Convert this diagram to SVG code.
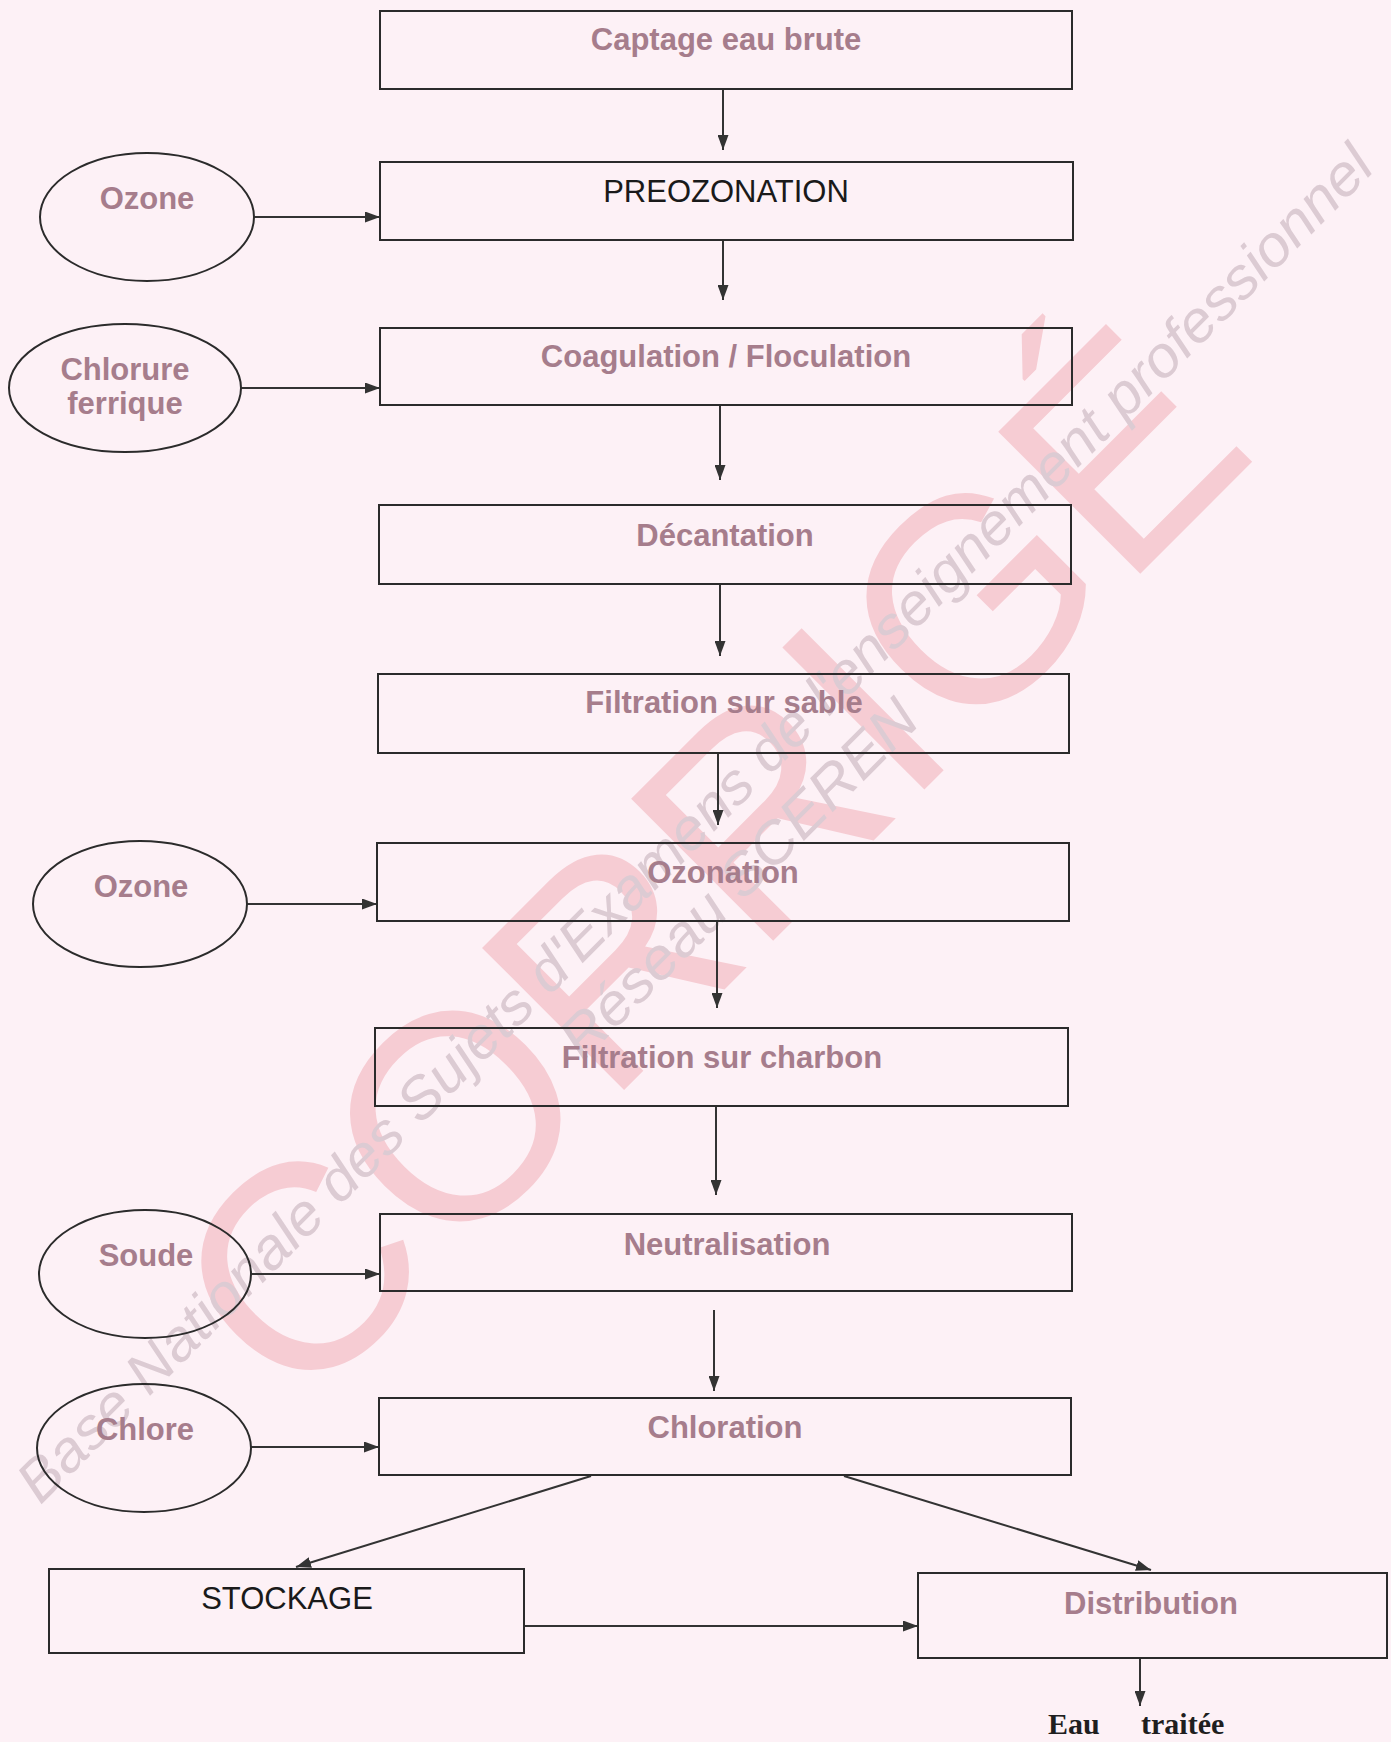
<svg xmlns="http://www.w3.org/2000/svg" width="1391" height="1742" viewBox="0 0 1391 1742">
<defs>
<marker id="ah" markerWidth="15" markerHeight="11" refX="15" refY="5.5" orient="auto" markerUnits="userSpaceOnUse">
<path d="M0,0 L15,5.5 L0,11 z" fill="#333"/>
</marker>
<style>
.box{fill:none;stroke:#2b2b2b;stroke-width:2}
.ell{fill:none;stroke:#2b2b2b;stroke-width:2}
.con{fill:none;stroke:#333;stroke-width:2;marker-end:url(#ah)}
.pt{font-family:"Liberation Sans",Arial,sans-serif;font-size:31px;font-weight:bold;fill:#a67d8c;text-anchor:middle}
.bt{font-family:"Liberation Sans",Arial,sans-serif;font-size:31px;fill:#1a1a1a;text-anchor:middle}
.wm{font-family:"Liberation Sans",Arial,sans-serif;font-size:292px;fill:#f6ccd3}
.wt{font-family:"Liberation Sans",Arial,sans-serif;font-style:italic;font-size:58px;fill:#dccbd3}
</style>
</defs>
<rect x="0" y="0" width="1391" height="1742" fill="#fdf1f6"/>
<g id="watermark">
<text class="wm" transform="rotate(-45)" x="-110" y="1212" text-anchor="middle">CORRIGÉ</text>
<text class="wt" transform="rotate(-45)" x="-1036" y="1093" textLength="1890" lengthAdjust="spacingAndGlyphs">Base Nationale des Sujets d'Examens de l'enseignement professionnel</text>
<text class="wt" transform="rotate(-45)" x="-339" y="1163" textLength="480" lengthAdjust="spacingAndGlyphs">Réseau SCEREN</text>
</g>
<g id="connectors">
<line class="con" x1="723" y1="89" x2="723" y2="150"/>
<line class="con" x1="254" y1="217" x2="380" y2="217"/>
<line class="con" x1="723" y1="240" x2="723" y2="300"/>
<line class="con" x1="241" y1="388" x2="380" y2="388"/>
<line class="con" x1="720" y1="405" x2="720" y2="480"/>
<line class="con" x1="720" y1="584" x2="720" y2="656"/>
<line class="con" x1="718" y1="753" x2="718" y2="825"/>
<line class="con" x1="247" y1="904" x2="377" y2="904"/>
<line class="con" x1="717" y1="921" x2="717" y2="1008"/>
<line class="con" x1="716" y1="1106" x2="716" y2="1195"/>
<line class="con" x1="251" y1="1274" x2="380" y2="1274"/>
<line class="con" x1="714" y1="1310" x2="714" y2="1391"/>
<line class="con" x1="251" y1="1447" x2="379" y2="1447"/>
<line class="con" x1="591" y1="1476" x2="296" y2="1567"/>
<line class="con" x1="844" y1="1476" x2="1151" y2="1570"/>
<line class="con" x1="524" y1="1626" x2="918" y2="1626"/>
<line class="con" x1="1140" y1="1658" x2="1140" y2="1706"/>
</g>
<g id="n-captage"><rect class="box" x="380" y="11" width="692" height="78"/><text class="pt" x="726" y="50">Captage eau brute</text></g>
<g id="n-preozonation"><rect class="box" x="380" y="162" width="693" height="78"/><text class="bt" x="726" y="202">PREOZONATION</text></g>
<g id="n-ozone1"><ellipse class="ell" cx="147" cy="217" rx="107" ry="64"/><text class="pt" x="147" y="209">Ozone</text></g>
<g id="n-coagulation"><rect class="box" x="380" y="328" width="692" height="77"/><text class="pt" x="726" y="367">Coagulation / Floculation</text></g>
<g id="n-chlorure"><ellipse class="ell" cx="125" cy="388" rx="116" ry="64"/><text class="pt" x="125" y="380">Chlorure</text><text class="pt" x="125" y="414">ferrique</text></g>
<g id="n-decantation"><rect class="box" x="379" y="505" width="692" height="79"/><text class="pt" x="725" y="546">Décantation</text></g>
<g id="n-sable"><rect class="box" x="378" y="674" width="691" height="79"/><text class="pt" x="724" y="713">Filtration sur sable</text></g>
<g id="n-ozonation"><rect class="box" x="377" y="843" width="692" height="78"/><text class="pt" x="723" y="883">Ozonation</text></g>
<g id="n-ozone2"><ellipse class="ell" cx="140" cy="904" rx="107" ry="63"/><text class="pt" x="141" y="897">Ozone</text></g>
<g id="n-charbon"><rect class="box" x="375" y="1028" width="693" height="78"/><text class="pt" x="722" y="1068">Filtration sur charbon</text></g>
<g id="n-neutralisation"><rect class="box" x="380" y="1214" width="692" height="77"/><text class="pt" x="727" y="1255">Neutralisation</text></g>
<g id="n-soude"><ellipse class="ell" cx="145" cy="1274" rx="106" ry="64"/><text class="pt" x="146" y="1266">Soude</text></g>
<g id="n-chloration"><rect class="box" x="379" y="1398" width="692" height="77"/><text class="pt" x="725" y="1438">Chloration</text></g>
<g id="n-chlore"><ellipse class="ell" cx="144" cy="1448" rx="107" ry="64"/><text class="pt" x="145" y="1440">Chlore</text></g>
<g id="n-stockage"><rect class="box" x="49" y="1569" width="475" height="84"/><text class="bt" x="287" y="1609">STOCKAGE</text></g>
<g id="n-distribution"><rect class="box" x="918" y="1573" width="469" height="85"/><text class="pt" x="1151" y="1614">Distribution</text></g>
<g id="n-eau"><text font-family="'Liberation Serif','Times New Roman',serif" font-weight="bold" font-size="30" fill="#1f1f1f" y="1734"><tspan x="1048">Eau</tspan><tspan x="1141">traitée</tspan></text></g>
</svg>
